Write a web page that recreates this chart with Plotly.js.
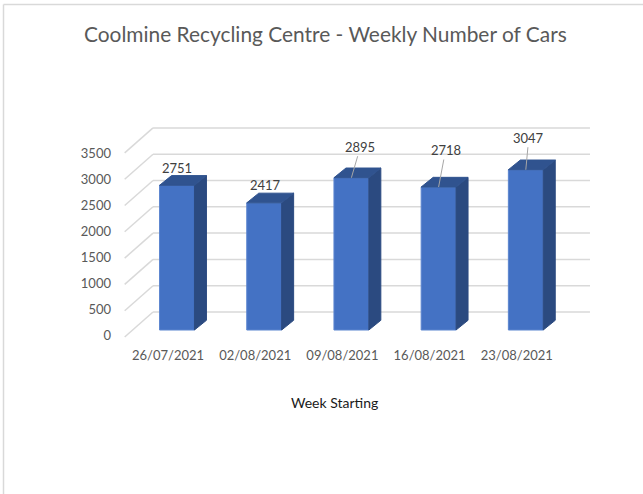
<!DOCTYPE html>
<html>
<head>
<meta charset="utf-8">
<script src="https://cdn.plot.ly/plotly-3.0.1.min.js"></script>
<style>html,body{margin:0;padding:0;background:#fff;overflow:hidden}#chart{width:643px;height:494px}</style>
</head>
<body>
<div id="chart"></div>
<script>
var weeks = ['26/07/2021','02/08/2021','09/08/2021','16/08/2021','23/08/2021'];
var cars = [2751,2417,2895,2718,3047];
var axisTicks = [0,500,1000,1500,2000,2500,3000,3500];

var idx = weeks.map(function(_,i){return i;});
var W=643,H=494,L=116,R=43,T=100,B=148;
var pxPerCat=87.2, pxPerVal=0.0526;
var halfBar=0.2;
var dx=12/pxPerCat, dy=9.7/pxPerVal;
var wallX0=-0.275, wallX1=4.736, wallDy=342, floorX0=-0.6, floorDy=-133;
var labelPxPerVal=0.052, labelZeroPx=335;

var traces=[{
  type:'bar',x:idx,y:cars,width:halfBar*2,
  marker:{color:'#4472C4',line:{color:'#5B85CF',width:1}},
  hoverinfo:'y',showlegend:false
}];
cars.forEach(function(v,i){
  var a=i-halfBar,b=i+halfBar;
  traces.push({type:'scatter',mode:'lines',fill:'toself',fillcolor:'#2B4A80',line:{color:'#2B4A80',width:1},
    x:[b,b+dx,b+dx,b,b],y:[0,dy,v+dy,v,0],hoverinfo:'skip',showlegend:false});
  traces.push({type:'scatter',mode:'lines',fill:'toself',fillcolor:'#30538F',line:{color:'#30538F',width:1},
    x:[a,a+dx,b+dx,b,a],y:[v,v+dy,v+dy,v,v],hoverinfo:'skip',showlegend:false});
});
// carries the front-plane value axis, whose scale differs from the bar plane
traces.push({type:'scatter',mode:'markers',yaxis:'y2',x:axisTicks.map(function(){return 0;}),y:axisTicks,
  marker:{opacity:0},hoverinfo:'skip',showlegend:false});

var gridLine={color:'#D9D9D9',width:1.5};
var shapes=[];
axisTicks.forEach(function(t){
  shapes.push({type:'line',layer:'below',xref:'x',yref:'y',x0:wallX0,x1:wallX1,y0:t+wallDy,y1:t+wallDy,line:gridLine});
  shapes.push({type:'line',layer:'below',xref:'x',yref:'y',x0:floorX0,x1:wallX0,y0:t+floorDy,y1:t+wallDy,line:gridLine});
});
// window frame: left and top edges only
var frame={color:'#D9D9D9',width:1.5};
var frameX=-(L-3.5)/(W-L-R), frameY=(H-B-4.5)/(H-T-B);
shapes.push({type:'line',xref:'paper',yref:'paper',x0:frameX,x1:frameX,y0:-B/(H-T-B),y1:frameY,line:frame});
shapes.push({type:'line',xref:'paper',yref:'paper',x0:frameX,x1:(W-L)/(W-L-R),y0:frameY,y1:frameY,line:frame});

var labelPos=[{ax:0,ay:-17,arrow:false},{ax:1,ay:-18,arrow:false},{ax:9,ay:-31,arrow:true},{ax:7,ay:-37,arrow:true},{ax:3,ay:-32,arrow:true}];
var annotations=cars.map(function(v,i){
  var p=labelPos[i];
  var a={x:i,y:v,xref:'x',yref:'y',text:String(v),font:{family:'Lato, sans-serif',size:13,color:'#404040'}};
  if(p.arrow){a.showarrow=true;a.arrowhead=0;a.arrowwidth=1;a.arrowcolor='#A6A6A6';a.ax=p.ax;a.ay=p.ay;}
  else{a.showarrow=false;a.xshift=p.ax;a.yshift=-p.ay;}
  return a;
});
annotations.push({xref:'paper',yref:'paper',x:(334.5-L)/(W-L-R),y:-(402-(H-B))/(H-T-B),yanchor:'middle',showarrow:false,
  text:'Week Starting',font:{family:'Lato, sans-serif',size:14,color:'#1a1a1a'}});

var layout={
  width:W,height:H,margin:{l:L,r:R,t:T,b:B},
  paper_bgcolor:'#fff',plot_bgcolor:'rgba(0,0,0,0)',showlegend:false,
  title:{text:'Coolmine Recycling Centre - Weekly Number of Cars',x:0.506,xanchor:'center',y:0.929,yanchor:'middle',
    font:{family:'Lato, sans-serif',size:20.9,color:'#595959'}},
  xaxis:{range:[(L-177)/pxPerCat,(W-R-177)/pxPerCat],tickvals:idx,ticktext:weeks,ticklabelshift:-9,ticks:'',
    showgrid:false,zeroline:false,showline:false,tickfont:{family:'Lato, sans-serif',size:13,color:'#595959'}},
  yaxis:{range:[(330-(H-B))/pxPerVal,(330-T)/pxPerVal],showticklabels:false,ticks:'',
    showgrid:false,zeroline:false,showline:false},
  yaxis2:{overlaying:'y',side:'left',range:[(labelZeroPx-(H-B))/labelPxPerVal,(labelZeroPx-T)/labelPxPerVal],
    tickvals:axisTicks,ticks:'',ticklabelstandoff:4,showgrid:false,zeroline:false,showline:false,
    tickfont:{family:'Lato, sans-serif',size:13,color:'#595959'}},
  shapes:shapes,annotations:annotations
};
Plotly.newPlot('chart',traces,layout,{displayModeBar:false,staticPlot:true});
</script>
</body>
</html>
